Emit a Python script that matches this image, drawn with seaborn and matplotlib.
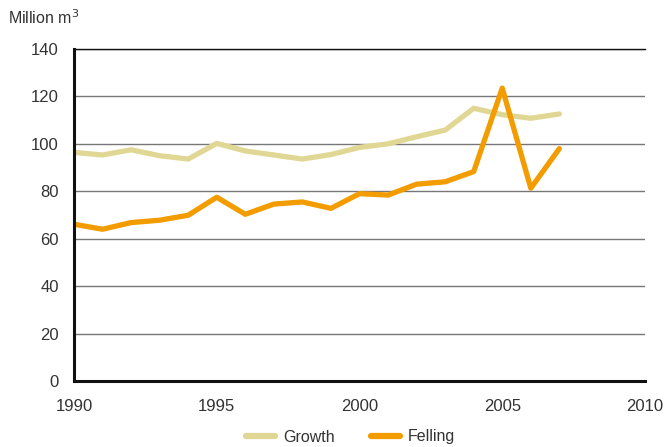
import pandas as pd
import seaborn as sns
import matplotlib.pyplot as plt
from matplotlib.lines import Line2D

# Annual growth and felling, million m3
years = list(range(1990, 2008))
growth = [96.4, 95.3, 97.5, 95.0, 93.6, 100.2, 97.0, 95.3, 93.6, 95.5,
          98.5, 100.0, 103.0, 105.8, 115.0, 112.3, 110.8, 112.6]
felling = [66.1, 64.0, 66.8, 67.8, 69.9, 77.5, 70.3, 74.6, 75.5, 72.8,
           79.0, 78.4, 83.0, 84.0, 88.3, 123.5, 81.3, 98.0]

df = pd.DataFrame({"year": years * 2,
                   "value": growth + felling,
                   "series": ["Growth"] * len(years) + ["Felling"] * len(years)})

sns.set_style("white")
plt.rcParams['font.family'] = ['Liberation Sans', 'DejaVu Sans']

fig = plt.figure(figsize=(6.64, 4.47), dpi=100)
ax = fig.add_axes([74 / 664, 1 - 381 / 447, (645 - 74) / 664, (381 - 49) / 447])

colors = {"Growth": "#e1d794", "Felling": "#f39c00"}
sns.lineplot(data=df, x="year", y="value", hue="series", palette=colors,
             linewidth=3.8, ax=ax, legend=False)

ax.set_xlim(1990, 2010)
ax.set_ylim(0, 140)
ax.set_xticks([1990, 1995, 2000, 2005, 2010])
ax.set_yticks(range(0, 141, 20))
ax.yaxis.grid(True, color="#777777", linewidth=1.0)
ax.set_axisbelow(True)
ax.set_xlabel("")
ax.set_ylabel("")

for s in ["left", "bottom"]:
    ax.spines[s].set_color("#111111")
    ax.spines[s].set_linewidth(2.2)
ax.spines["right"].set_visible(False)
ax.spines["top"].set_color("#111111")
ax.spines["top"].set_linewidth(1.0)

ax.tick_params(axis="both", direction="out", length=7, width=2.2, color="#111111",
               labelsize=12, labelcolor="#333333", pad=4)
ax.tick_params(axis="x", pad=6)

fig.text(8 / 664, 1 - 18 / 447, "Million m$^3$", fontsize=11.5, color="#333333",
         va="center", ha="left")

# legend
handles = [Line2D([], [], color=colors["Growth"], linewidth=4.5),
           Line2D([], [], color=colors["Felling"], linewidth=4.5)]
fig.legend(handles, ["Growth", "Felling"], loc="center left",
           bbox_to_anchor=(232 / 664, 1 - 437 / 447),
           ncol=2, frameon=False, fontsize=11.5, handlelength=1.8, handletextpad=0.5,
           columnspacing=2.3, labelcolor="#333333")

fig.savefig("out.png", dpi=100)
